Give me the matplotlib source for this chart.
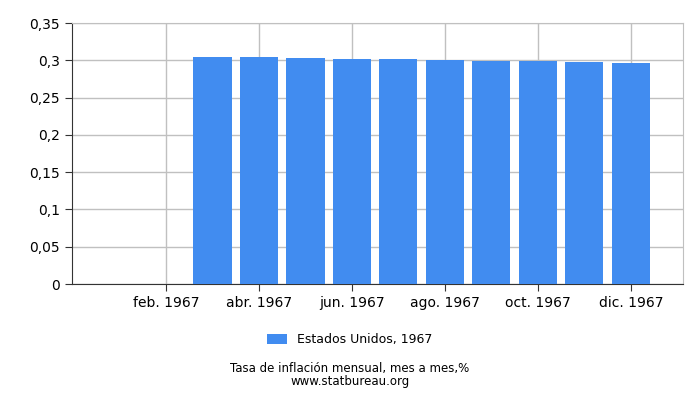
import numpy as np
import matplotlib.pyplot as plt
from matplotlib.ticker import FuncFormatter

months = ['ene.', 'feb.', 'mar.', 'abr.', 'may.', 'jun.', 'jul.', 'ago.', 'sept.', 'oct.', 'nov.', 'dic.']
values = [np.nan, np.nan, 0.3044, 0.3044, 0.3031, 0.3017, 0.3017, 0.3004, 0.2991, 0.2991, 0.2977, 0.2964]
series_name = 'Estados Unidos, 1967'
year = 1967

fig = plt.figure(figsize=(7, 4), dpi=100)
ax = fig.add_axes([0.1029, 0.29, 0.8728, 0.6525])

x = np.arange(len(months))
ax.bar(x, values, width=0.82, color='#418cf0', label=series_name, zorder=3)

ax.set_xlim(-1.02, 12.12)
ax.set_ylim(0, 0.35)
ax.set_yticks(np.arange(0, 0.351, 0.05))
ax.yaxis.set_major_formatter(FuncFormatter(lambda v, p: ('%g' % round(v, 2)).replace('.', ',')))
ax.set_xticks(x[1::2])
ax.set_xticklabels(['%s %d' % (m, year) for m in months[1::2]])

ax.grid(True, color='#c0c0c0', linewidth=1, zorder=0)
for s in ['top', 'right']:
    ax.spines[s].set_color('#c0c0c0')
for s in ['left', 'bottom']:
    ax.spines[s].set_color('#333333')
ax.tick_params(colors='#333333', labelcolor='black', labelsize=10, length=5)

fig.legend(loc='center', bbox_to_anchor=(0.5, 0.15), frameon=False, fontsize=9,
           handlelength=1.6, handleheight=0.9)
fig.text(0.5, 0.03, 'Tasa de inflación mensual, mes a mes,%\nwww.statbureau.org',
         ha='center', va='bottom', fontsize=8.5, linespacing=1.0)

fig.savefig('out.png', dpi=100)
